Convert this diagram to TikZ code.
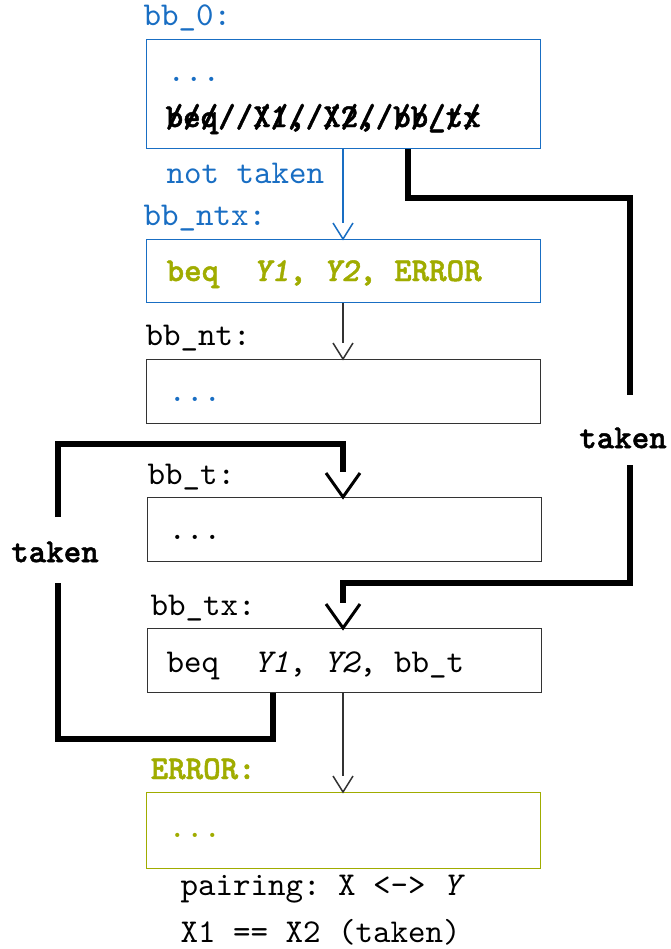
\documentclass[tikz,border=0pt]{standalone}
\usepackage{fontspec}
\usetikzlibrary{calc}
\newfontfamily\ttheavy{lmmonolt10-bold.otf}[ItalicFont=lmmonolt10-boldoblique.otf, FakeBold=1.4]
\definecolor{cblue}{RGB}{25,110,195}
\definecolor{colive}{RGB}{160,172,0}
% open V head whose apex sits at #2; half width #3, length #4 (picture units)
\newcommand{\openhead}[5][]{%
  \draw[line width=#5, #1] ($#2+(-#3,-#4)$) -- #2 -- ($#2+(#3,-#4)$);}
\begin{document}
\begin{tikzpicture}[x=0.3pt,y=-0.3pt, font=\ttfamily,
  txt/.style={anchor=base west, inner sep=0pt},
  block/.style={draw, anchor=north west, minimum width=118.2pt, inner sep=0pt, line width=0.4pt},
  thinline/.style={line width=0.4pt, shorten >=4.9pt},
  jump/.style={line width=1.8pt},
  jumpline/.style={jump, shorten >=7.5pt},
  lbl/.style={font=\ttheavy, inner sep=0pt}]
\useasboundingbox (0,0) rectangle (671,949);

% basic blocks
\node[block, draw=cblue, minimum height=32.7pt] (b0) at (146,39) {};
\node[block, draw=cblue, minimum height=18.9pt] (bntx) at (146,239) {};
\node[block, draw=black!80, minimum height=19.2pt] (bnt) at (146,359) {};
\node[block, draw=black!80, minimum height=19.2pt] (bt) at (147,497) {};
\node[block, draw=black!80, minimum height=19.2pt] (btx) at (147,628) {};
\node[block, draw=colive, minimum height=22.8pt] (berr) at (146,792) {};

% block labels and contents
\node[txt, cblue] (l0) at (143,25) {bb\_0:};
\node[txt, cblue] (d0) at (167,81) {...};
\node[txt] (s0) at (165,127) {\ttheavy beq\ \ X1,\ X2,\ bb\_tx};
\node[txt] (s0x) at (165,127) {\ttheavy //////////////////};
\node[txt, cblue] (nt) at (166,183) {not\ taken};
\node[txt, cblue] (lntx) at (143,225) {bb\_ntx:};
\node[txt, colive] (cntx) at (166,281) {\ttheavy beq\ \ \textit{Y1},\ \textit{Y2},\ ERROR};
\node[txt] (lnt) at (145,345) {bb\_nt:};
\node[txt, cblue] (dnt) at (168,401) {...};
\node[txt] (lt) at (147,484) {bb\_t:};
\node[txt] (dt) at (168,539) {...};
\node[txt] (ltx) at (150,615) {bb\_tx:};
\node[txt] (ctx) at (166,672) {beq\ \ \textit{Y1},\ \textit{Y2},\ bb\_t};
\node[txt, colive] (lerr) at (150,779) {\ttheavy ERROR:};
\node[txt, colive] (derr) at (168,837) {...};
\node[txt] (n1) at (180,895) {pairing:\ X\ <->\ \textit{Y}};
\node[txt] (n2) at (180,942) {X1\ ==\ X2\ (taken)};

\node[lbl] (tR) at (623,438) {taken};
\node[lbl] (tL) at (55,552) {taken};

% fall-through edges
\coordinate (mid) at (343,0);
\draw[thinline, cblue] (b0.south -| mid) -- (bntx.north -| mid);
\openhead[cblue]{(bntx.north -| mid)}{10}{16}{0.45pt}
\draw[thinline, black!80] (bntx.south -| mid) -- (bnt.north -| mid);
\openhead[black!80]{(bnt.north -| mid)}{10}{16}{0.45pt}
\draw[thinline, black!80] (btx.south -| mid) -- (berr.north -| mid);
\openhead[black!80]{(berr.north -| mid)}{10}{16}{0.45pt}

% taken edges
\coordinate (r0) at (408,0);
\coordinate (rA) at (630,395);
\coordinate (rB) at (630,465);
\coordinate (rC) at (343,583);
\draw[jump] (b0.south -| r0) -- ++(0,49) -| (rA);
\draw[jumpline] (rB) |- (rC) -- (btx.north -| mid);
\openhead{(btx.north -| mid)}{17}{24}{0.9pt}

\coordinate (q0) at (273,0);
\coordinate (qA) at (58,583);
\coordinate (qB) at (58,517);
\coordinate (qC) at (343,444);
\draw[jump] (btx.south -| q0) -- ++(0,46) -| (qA);
\draw[jumpline] (qB) |- (qC) -- (bt.north -| mid);
\openhead{(bt.north -| mid)}{17}{24}{0.9pt}
\end{tikzpicture}
\end{document}
